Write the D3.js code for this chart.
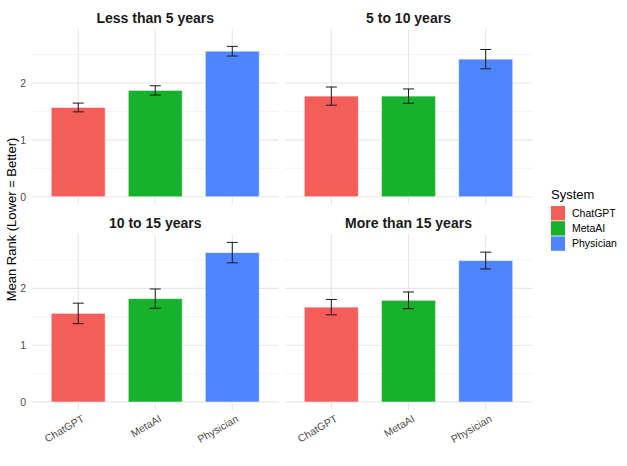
<!DOCTYPE html>
<html>
<head>
<meta charset="utf-8">
<script src="https://cdn.jsdelivr.net/npm/d3@7"></script>
<style>
  body { margin: 0; background: #fff; }
  svg { display: block; font-family: "Liberation Sans", Arial, sans-serif; }
</style>
</head>
<body>
<svg id="chart" width="627" height="466"></svg>
<script>
// experience groups, one panel each
var groups = ['Less than 5 years', '5 to 10 years', '10 to 15 years', 'More than 15 years'];
var systems = ['ChatGPT', 'MetaAI', 'Physician'];
var colors = ['#F35E5A', '#18B12E', '#4F86FF'];

// mean rank per group, in systems order
var meanRank = [
    [1.57, 1.87, 2.56],
    [1.77, 1.77, 2.42],
    [1.56, 1.82, 2.63],
    [1.67, 1.79, 2.49]
];
// half width of the error bars
var errSize = [
    [0.077, 0.082, 0.085],
    [0.16, 0.126, 0.17],
    [0.18, 0.17, 0.18],
    [0.135, 0.147, 0.148]
];
var yTicks = [0, 1, 2];
var yMinor = [0.5, 1.5, 2.5];

var svg = d3.select('#chart');

// panel boxes (x0, x1 per column, y0, y1 per row)
var cols = [[32, 278.5], [285, 532]];
var rows = [[29, 204.7], [234.4, 410]];

var yMaxData = d3.max(meanRank, function (r, i) {
    return d3.max(r, function (v, j) { return v + errSize[i][j]; });
});
var pad = yMaxData * 0.05;

groups.forEach(function (g, gi) {
    var col = gi % 2, row = Math.floor(gi / 2);
    var x = d3.scalePoint().domain(systems).range(cols[col]).padding(0.6);
    var y = d3.scaleLinear().domain([-pad, yMaxData + pad]).range([rows[row][1], rows[row][0]]);
    var bw = x.step() * 0.7;

    var p = svg.append('g');

    // grid
    p.selectAll('line.minor').data(yMinor).enter().append('line')
        .attr('x1', cols[col][0]).attr('x2', cols[col][1])
        .attr('y1', function (d) { return y(d); }).attr('y2', function (d) { return y(d); })
        .attr('stroke', '#f0f0f0').attr('stroke-width', 0.8);
    p.selectAll('line.major').data(yTicks).enter().append('line')
        .attr('x1', cols[col][0]).attr('x2', cols[col][1])
        .attr('y1', function (d) { return y(d); }).attr('y2', function (d) { return y(d); })
        .attr('stroke', '#e6e6e6').attr('stroke-width', 1.1);
    p.selectAll('line.vgrid').data(systems).enter().append('line')
        .attr('x1', function (d) { return x(d); }).attr('x2', function (d) { return x(d); })
        .attr('y1', rows[row][0]).attr('y2', rows[row][1])
        .attr('stroke', '#e6e6e6').attr('stroke-width', 1.1);

    // bars
    p.selectAll('rect').data(systems).enter().append('rect')
        .attr('x', function (d) { return x(d) - bw / 2; })
        .attr('width', bw)
        .attr('y', function (d, i) { return y(meanRank[gi][i]); })
        .attr('height', function (d, i) { return y(0) - y(meanRank[gi][i]); })
        .attr('fill', function (d, i) { return colors[i]; })
        .attr('stroke', 'rgba(255,255,255,0.5)').attr('stroke-width', 1);

    // error bars
    var cap = 5.5;
    systems.forEach(function (s, i) {
        var cx = x(s);
        var lo = y(meanRank[gi][i] - errSize[gi][i]);
        var hi = y(meanRank[gi][i] + errSize[gi][i]);
        p.append('path')
            .attr('d', 'M' + (cx - cap) + ',' + hi + 'H' + (cx + cap) +
                'M' + cx + ',' + hi + 'V' + lo +
                'M' + (cx - cap) + ',' + lo + 'H' + (cx + cap))
            .attr('stroke', '#1a1a1a').attr('stroke-width', 1).attr('fill', 'none');
    });

    // strip title
    p.append('text')
        .attr('x', (cols[col][0] + cols[col][1]) / 2)
        .attr('y', rows[row][0] - 6)
        .attr('text-anchor', 'middle')
        .attr('font-size', 14).attr('font-weight', 'bold').attr('fill', '#1a1a1a')
        .text(g);

    // y axis labels on left column
    if (col === 0) {
        var ya = p.append('g')
            .attr('transform', 'translate(' + cols[col][0] + ',0)')
            .call(d3.axisLeft(y).tickValues(yTicks).tickSize(0).tickPadding(6).tickFormat(d3.format('d')));
        ya.select('.domain').remove();
        ya.selectAll('text').attr('font-size', 10.5).attr('fill', '#4d4d4d')
            .style('font-family', '"Liberation Sans", Arial, sans-serif');
    }

    // x axis labels on bottom row
    if (row === 1) {
        p.selectAll('text.xl').data(systems).enter().append('text')
            .attr('transform', function (d) { return 'translate(' + (x(d) + 3) + ',' + (rows[row][1] + 4) + ') rotate(-30)'; })
            .attr('text-anchor', 'end')
            .attr('dy', '0.75em')
            .attr('font-size', 10.5).attr('fill', '#4d4d4d')
            .text(function (d) { return d; });
    }
});

// y axis title
svg.append('text')
    .attr('transform', 'translate(16,' + ((rows[0][0] + rows[1][1]) / 2) + ') rotate(-90)')
    .attr('text-anchor', 'middle')
    .attr('font-size', 13).attr('fill', '#000')
    .text('Mean Rank (Lower = Better)');

// legend
var leg = svg.append('g').attr('transform', 'translate(551,0)');
leg.append('text').attr('x', 0).attr('y', 199)
    .attr('font-size', 13).attr('fill', '#000').text('System');
systems.forEach(function (s, i) {
    leg.append('rect')
        .attr('x', 0).attr('y', 206 + i * 15.2)
        .attr('width', 14).attr('height', 14.4)
        .attr('fill', colors[i]);
    leg.append('text')
        .attr('x', 21).attr('y', 206 + i * 15.2 + 7.2)
        .attr('dy', '0.35em')
        .attr('font-size', 10.5).attr('fill', '#000')
        .text(s);
});
</script>
</body>
</html>
